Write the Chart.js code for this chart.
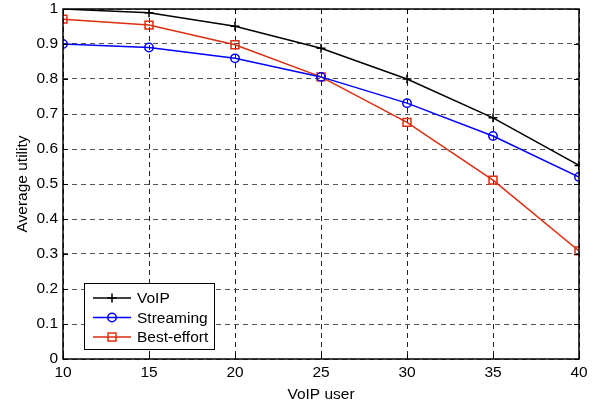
<!DOCTYPE html>
<html>
<head>
<meta charset="utf-8">
<script src="https://cdn.jsdelivr.net/npm/chart.js@4.4.1/dist/chart.umd.min.js"></script>
<style>
  html, body { margin: 0; padding: 0; background: #fff; }
  #wrap { width: 602px; height: 404px; }
</style>
</head>
<body>
<div id="wrap"><canvas id="chart" width="602" height="404"></canvas></div>
<script>
const users = [10, 15, 20, 25, 30, 35, 40];
const voip = [1.0, 0.989, 0.951, 0.888, 0.80, 0.689, 0.553];
const streaming = [0.90, 0.890, 0.859, 0.806, 0.731, 0.637, 0.52];
const bestEffort = [0.971, 0.954, 0.898, 0.806, 0.676, 0.511, 0.309];
const seriesNames = ['VoIP', 'Streaming', 'Best-effort'];

const FONT = 'Arial, "Liberation Sans", sans-serif';
const FSIZE = 15.5;

const toPoints = vals => users.map((u, i) => ({ x: u, y: vals[i] }));

// box + inward ticks, matlab style
const frame = {
    id: 'frame',
    afterDraw(chart) {
        const { ctx, chartArea: a, scales } = chart;
        ctx.save();
        ctx.strokeStyle = '#000';
        ctx.lineWidth = 1;
        ctx.beginPath();
        scales.x.ticks.forEach(t => {
            const px = Math.round(scales.x.getPixelForValue(t.value)) + 0.5;
            ctx.moveTo(px, a.bottom); ctx.lineTo(px, a.bottom - 5);
            ctx.moveTo(px, a.top); ctx.lineTo(px, a.top + 5);
        });
        scales.y.ticks.forEach(t => {
            const py = Math.round(scales.y.getPixelForValue(t.value)) + 0.5;
            ctx.moveTo(a.left, py); ctx.lineTo(a.left + 5, py);
            ctx.moveTo(a.right, py); ctx.lineTo(a.right - 5, py);
        });
        ctx.stroke();
        ctx.lineWidth = 1.5;
        ctx.strokeRect(a.left, a.top, a.right - a.left, a.bottom - a.top);
        ctx.restore();
    }
};

// legend box inside the plot, lower left
const insetLegend = {
    id: 'insetLegend',
    afterDraw(chart) {
        const { ctx, chartArea: a } = chart;
        const x0 = a.left + 21, y0 = a.bottom - 76, w = 130, h = 66;
        ctx.save();
        ctx.fillStyle = '#fff';
        ctx.fillRect(x0, y0, w, h);
        ctx.strokeStyle = '#000';
        ctx.lineWidth = 1;
        ctx.strokeRect(x0 + 0.5, y0 + 0.5, w, h);
        ctx.font = FSIZE + 'px ' + FONT;
        ctx.textBaseline = 'middle';
        chart.data.datasets.forEach((ds, i) => {
            const cy = y0 + 15 + i * 19.5;
            ctx.strokeStyle = ds.borderColor;
            ctx.lineWidth = 1.5;
            ctx.beginPath();
            ctx.moveTo(x0 + 9, cy); ctx.lineTo(x0 + 47, cy);
            ctx.stroke();
            ctx.fillStyle = 'rgba(0,0,0,0)';
            Chart.helpers.drawPoint(ctx, {
                pointStyle: ds.pointStyle, radius: ds.pointRadius, borderWidth: 1.5
            }, x0 + 28, cy);
            ctx.fillStyle = '#000';
            ctx.fillText(ds.label, x0 + 53, cy + 1);
        });
        ctx.restore();
    }
};

const mkSet = (label, vals, color, style, r) => ({
    label: label,
    data: toPoints(vals),
    borderColor: color,
    backgroundColor: 'rgba(0,0,0,0)',
    pointBackgroundColor: 'rgba(0,0,0,0)',
    pointBorderColor: color,
    pointStyle: style,
    pointRadius: r,
    pointBorderWidth: 1.5,
    borderWidth: 1.5,
    tension: 0
});

new Chart(document.getElementById('chart'), {
    type: 'line',
    data: {
        datasets: [
            mkSet(seriesNames[0], voip, '#000000', 'cross', 4.5),
            mkSet(seriesNames[1], streaming, '#0000ff', 'circle', 4.2),
            mkSet(seriesNames[2], bestEffort, 'rgb(222,45,15)', 'rect', 5.6)
        ]
    },
    options: {
        responsive: false,
        animation: false,
        events: [],
        layout: { autoPadding: false, padding: { top: 9, right: 23, left: 0, bottom: 0 } },
        plugins: { legend: { display: false }, tooltip: { enabled: false } },
        scales: {
            x: {
                type: 'linear',
                min: 10, max: 40,
                afterFit: s => { s.height = 45; s.paddingLeft = 0; s.paddingRight = 0; },
                ticks: { stepSize: 5, color: '#000', padding: 4, font: { family: FONT, size: FSIZE } },
                grid: { color: '#222', drawTicks: false, lineWidth: 1 },
                border: { display: false, dash: [5, 4] },
                title: { display: true, text: 'VoIP user', color: '#000', padding: { top: 3, bottom: 0 }, font: { family: FONT, size: FSIZE } }
            },
            y: {
                min: 0, max: 1,
                afterFit: s => { s.width = 63; s.paddingTop = 0; s.paddingBottom = 0; },
                ticks: {
                    stepSize: 0.1, color: '#000', padding: 5,
                    font: { family: FONT, size: FSIZE },
                    callback: v => (Math.round(v * 10) / 10).toString()
                },
                grid: { color: '#555', drawTicks: false, lineWidth: 1 },
                border: { display: false, dash: [5, 4] },
                title: { display: true, text: 'Average utility', color: '#000', padding: { top: 13, bottom: 0 }, font: { family: FONT, size: FSIZE } }
            }
        }
    },
    plugins: [frame, insetLegend]
});
</script>
</body>
</html>
